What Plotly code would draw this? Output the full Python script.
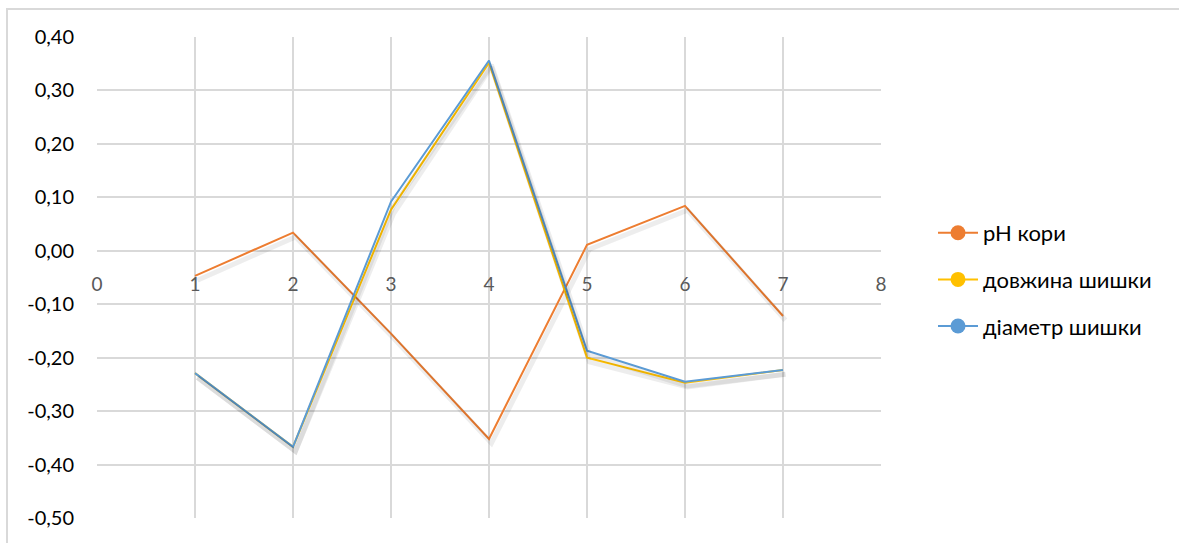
import plotly.graph_objects as go

# Sample index (x) and correlation values for each trait
x_vals = [1, 2, 3, 4, 5, 6, 7]
ph_bark = [-0.047, 0.034, -0.155, -0.352, 0.011, 0.084, -0.122]
cone_length = [-0.229, -0.367, 0.077, 0.352, -0.200, -0.247, -0.223]
cone_diameter = [-0.229, -0.367, 0.092, 0.356, -0.187, -0.245, -0.223]

series_names = ["pH кори", "довжина шишки", "діаметр шишки"]
series_values = [ph_bark, cone_length, cone_diameter]
series_colors = ["#ED7D31", "#FFC000", "#5B9BD5"]

y_ticks = [0.4, 0.3, 0.2, 0.1, 0.0, -0.1, -0.2, -0.3, -0.4, -0.5]
x_ticks = [0, 1, 2, 3, 4, 5, 6, 7, 8]

W, H = 1179, 543
L, R, T, B = 97, 881, 37, 518  # plot area edges in pixels

fig = go.Figure()

# soft shadow under each line, nudged down and right
for vals in series_values:
    fig.add_trace(go.Scatter(
        x=x_vals, y=vals, mode="lines",
        line=dict(color="rgba(0,0,0,0.07)", width=5),
        hoverinfo="skip", showlegend=False,
        xaxis="x2", yaxis="y2",
    ))

for name, vals, color in zip(series_names, series_values, series_colors):
    fig.add_trace(go.Scatter(
        x=x_vals, y=vals, mode="lines", name=name,
        line=dict(color=color, width=2), showlegend=False,
    ))

# legend entries with line + marker
for i, (name, color) in enumerate(zip(series_names, series_colors)):
    fig.add_trace(go.Scatter(
        x=[None], y=[None], mode="lines+markers", name=name,
        legendgroup=f"g{i}",
        line=dict(color=color, width=2),
        marker=dict(color=color, size=15),
    ))

y_lo, y_hi = -0.5, 0.4
zero_pos = (0 - y_lo) / (y_hi - y_lo)


def fmt(v):
    return f"{v:.2f}".replace(".", ",")


fig.update_layout(
    width=W, height=H,
    margin=dict(l=L, r=W - R, t=T, b=H - B),
    paper_bgcolor="white", plot_bgcolor="white",
    font=dict(family="Lato, 'Open Sans', sans-serif", size=19, color="#000000"),
    showlegend=True,
    legend=dict(
        x=(933 - L) / (R - L), y=(518 - 212) / (B - T), xanchor="left", yanchor="top",
        font=dict(size=22, color="#000000"),
        tracegroupgap=15, itemwidth=40,
        bgcolor="rgba(0,0,0,0)",
    ),
    xaxis=dict(
        range=[0, 8], tickvals=x_ticks, showgrid=True, gridcolor="#D9D9D9", gridwidth=2,
        zeroline=False, showline=False, anchor="free", position=zero_pos,
        ticks="", ticklabelstandoff=20,
        tickfont=dict(size=19, color="#595959"),
    ),
    yaxis=dict(
        range=[y_lo, y_hi], tickvals=y_ticks, ticktext=[fmt(v) for v in y_ticks],
        showgrid=True, gridcolor="#D9D9D9", gridwidth=2,
        zeroline=True, zerolinecolor="#D9D9D9", zerolinewidth=2,
        showline=False, ticks="", ticklabelstandoff=22,
        tickfont=dict(size=20, color="#000000"),
    ),
    xaxis2=dict(range=[-0.025, 7.975], overlaying="x", visible=False),
    yaxis2=dict(range=[y_lo + 0.008, y_hi + 0.008], overlaying="y", visible=False),
)

# chart area border
def px_x(p):
    return (p - L) / (R - L)

def px_y(p):
    return (B - p) / (B - T)

fig.add_shape(type="rect", xref="paper", yref="paper",
              x0=px_x(7), x1=px_x(1200), y0=px_y(560), y1=px_y(9),
              line=dict(color="#D9D9D9", width=2), layer="below")

fig.write_html("out.html")
